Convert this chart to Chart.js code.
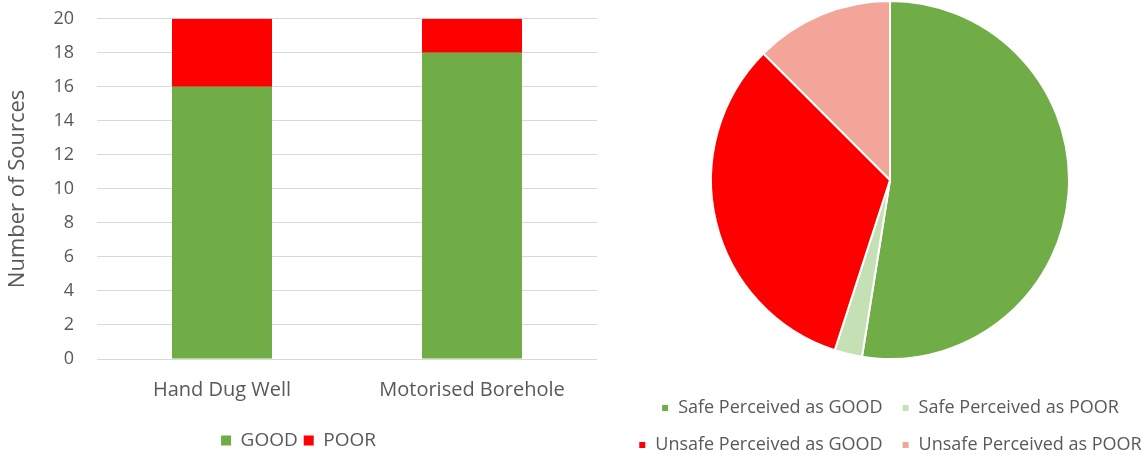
<!DOCTYPE html>
<html>
<head>
<meta charset="utf-8">
<script src="https://cdn.jsdelivr.net/npm/chart.js@4.4.0/dist/chart.umd.min.js"></script>
<style>
  html, body { margin: 0; padding: 0; background: #fff; overflow: hidden; width: 1141px; height: 455px; }
  #barBox { position: absolute; left: 0; top: -15px; width: 612px; height: 475px; }
  #pieBox { position: absolute; left: 610px; top: -20px; width: 560px; height: 484px; }
</style>
</head>
<body>
<div id="barBox"><canvas id="barChart"></canvas></div>
<div id="pieBox"><canvas id="pieChart"></canvas></div>
<script>
// ── Data ──
const sourceTypes = ['Hand Dug Well', 'Motorised Borehole'];
const goodCounts = [16, 18];
const poorCounts = [4, 2];

const pieLabels = ['Safe Perceived as GOOD', 'Safe Perceived as POOR', 'Unsafe Perceived as GOOD', 'Unsafe Perceived as POOR'];
const pieCounts = [21, 1, 13, 5];

// ── Colours ──
const GREEN = '#70AD47';
const RED = '#FF0000';
const LIGHT_GREEN = '#C5E0B4';
const PINK = '#F4A59A';
const TEXT = '#595959';

Chart.defaults.font.family = "'Open Sans', sans-serif";
Chart.defaults.color = TEXT;
Chart.defaults.animation = false;

// ── Stacked bar chart ──
new Chart(document.getElementById('barChart'), {
  type: 'bar',
  data: {
    labels: sourceTypes,
    datasets: [
      { label: 'GOOD', data: goodCounts, backgroundColor: GREEN },
      { label: 'POOR', data: poorCounts, backgroundColor: RED }
    ]
  },
  options: {
    responsive: true,
    maintainAspectRatio: false,
    layout: { padding: { top: 3, right: 15, left: 0, bottom: 0 } },
    datasets: { bar: { barPercentage: 0.4, categoryPercentage: 1.0 } },
    plugins: {
      tooltip: { enabled: false },
      legend: {
        position: 'bottom',
        labels: { boxWidth: 10, boxHeight: 10, padding: 6, color: TEXT, font: { size: 19 } }
      }
    },
    scales: {
      x: {
        stacked: true,
        grid: { display: false },
        border: { display: false },
        ticks: { padding: 11, color: TEXT, font: { size: 20 } },
        afterFit: s => { s.height = 66; }
      },
      y: {
        stacked: true,
        min: 0,
        max: 20,
        ticks: { stepSize: 2, padding: 23, color: TEXT, font: { size: 18 } },
        grid: { color: '#D9D9D9', drawTicks: false },
        border: { display: false },
        title: { display: true, text: 'Number of Sources', color: TEXT, font: { size: 22 }, padding: { top: 5, bottom: 0 } },
        afterFit: s => { s.width = 97; }
      }
    }
  }
});

// ── Pie chart ──
new Chart(document.getElementById('pieChart'), {
  type: 'pie',
  data: {
    labels: pieLabels,
    datasets: [{
      data: pieCounts,
      backgroundColor: [GREEN, LIGHT_GREEN, RED, PINK],
      borderColor: '#fff',
      borderWidth: 2
    }]
  },
  options: {
    responsive: true,
    maintainAspectRatio: false,
    radius: 179,
    layout: { padding: 0 },
    plugins: {
      tooltip: { enabled: false },
      legend: {
        position: 'bottom',
        labels: { boxWidth: 8, boxHeight: 8, padding: 19, color: TEXT, font: { size: 18 } }
      }
    }
  }
});
</script>
</body>
</html>
